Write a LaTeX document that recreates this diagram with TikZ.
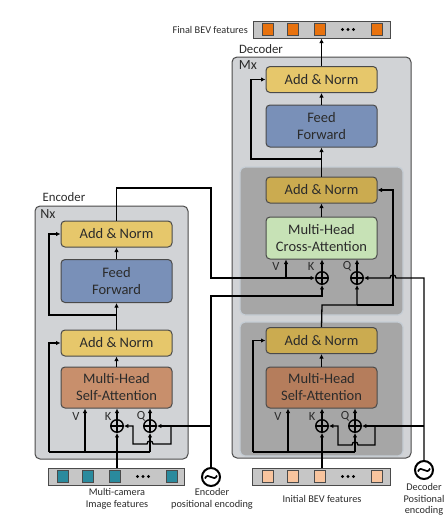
\documentclass[tikz,border=0pt]{standalone}
\usepackage{fontspec}
\setmainfont{Carlito}
\usetikzlibrary{arrows.meta,calc}
\definecolor{outergrey}{HTML}{D1D3D6}
\definecolor{innergrey}{HTML}{A6A6A6}
\definecolor{innerline}{HTML}{C5CDD5}
\definecolor{boxline}{HTML}{4A4A4A}
\definecolor{textdark}{HTML}{2B2B2B}
\definecolor{anlight}{HTML}{E6C76B}
\definecolor{andark}{HTML}{CBAB50}
\definecolor{ffblue}{HTML}{7990B8}
\definecolor{salight}{HTML}{C88F6C}
\definecolor{sadark}{HTML}{B57D5C}
\definecolor{cagreen}{HTML}{C7E2B6}
\definecolor{bargrey}{HTML}{C6C6C6}
\definecolor{teal}{HTML}{2A8A9D}
\definecolor{lorange}{HTML}{F8C49E}
\definecolor{dorange}{HTML}{E8720E}
\begin{document}
\begin{tikzpicture}[x=1pt,y=-1pt,
  outerbox/.style={draw=boxline, line width=1pt, fill=outergrey, rounded corners=5pt, inner sep=0pt},
  innerbox/.style={draw=innerline, line width=1.2pt, fill=innergrey, rounded corners=5pt, inner sep=0pt},
  blk/.style={draw=boxline, line width=1pt, rounded corners=4pt, minimum width=111pt, inner sep=0pt, align=center, text=textdark, font=\fontsize{14.5}{17}\selectfont},
  anl/.style={blk, fill=anlight, minimum height=26pt},
  and/.style={blk, fill=andark, minimum height=26pt},
  ffb/.style={blk, fill=ffblue, minimum height=43pt},
  sal/.style={blk, fill=salight, minimum height=41pt},
  sad/.style={blk, fill=sadark, minimum height=41pt},
  cab/.style={blk, fill=cagreen, minimum height=42pt},
  conn/.style={line width=1.3pt, black},
  arr/.style={conn, -{Latex[length=4.5pt,width=4.5pt]}},
  sumnode/.style={circle, draw, line width=1.4pt, minimum size=12.5pt, inner sep=0pt,
    path picture={\draw[line width=1.4pt] (path picture bounding box.north) -- (path picture bounding box.south) (path picture bounding box.west) -- (path picture bounding box.east);}},
  penode/.style={circle, draw, line width=2pt, minimum size=18pt, inner sep=0pt,
    path picture={\draw[line width=1.7pt] ($(path picture bounding box.center)+(-6pt,-1.5pt)$) .. controls ($(path picture bounding box.center)+(-3pt,6pt)$) and ($(path picture bounding box.center)+(3pt,-6pt)$) .. ($(path picture bounding box.center)+(6pt,1.5pt)$);}},
  bar/.style={draw=boxline, line width=1pt, fill=bargrey, minimum height=17pt, inner sep=0pt},
  sq/.style={draw=boxline, line width=0.8pt, minimum width=11.5pt, minimum height=12pt, inner sep=0pt},
  lbl/.style={text=textdark, font=\fontsize{10.3}{11.5}\selectfont, align=center, inner sep=0pt},
  title/.style={text=textdark, font=\fontsize{12.8}{14}\selectfont, inner sep=0pt},
  mult/.style={text=textdark, font=\fontsize{14}{15}\selectfont, inner sep=0pt},
  vkq/.style={text=textdark, font=\fontsize{12.5}{13}\selectfont, inner sep=0pt}
]
\useasboundingbox (0,0) rectangle (445,530);

% ================= ENCODER =================
\node[title] (enctitle) at (64,197) {Encoder};
\node[outerbox, minimum width=153pt, minimum height=253pt] (encbox) at (111.5,332.5) {};
\node[mult] (nx) at (48,214) {Nx};
\node[anl] (eAN2) at (116.5,234) {Add \& Norm};
\node[ffb] (eFF) at (116.5,281) {Feed\\Forward};
\node[anl] (eAN1) at (116.5,343) {Add \& Norm};
\node[sal] (eSA) at (116.5,387.5) {Multi-Head\\Self-Attention};
\node[sumnode] (eK) at (117,426) {};
\node[sumnode] (eQ) at (150,426) {};
\node[vkq] (eVl) at (76,416) {V};
\node[vkq] (eKl) at (108,416) {K};
\node[vkq] (eQl) at (141,416) {Q};

% image features bar
\node[bar, minimum width=136pt] (imgbar) at (116,476.5) {};
\node[sq, fill=teal] (is1) at (63,476.5) {};
\node[sq, fill=teal] (is2) at (88,476.5) {};
\node[sq, fill=teal] (is3) at (115,476.5) {};
\node[sq, fill=teal] (is4) at (172,476.5) {};
\foreach \x in {137.5,143,148.5} \fill (\x,476.5) circle (1.6pt);
\node[lbl] (imglbl) at (117,499) {Multi-camera\\Image features};

% encoder positional encoding
\node[penode] (ePE) at (211,477) {};
\node[lbl] (epelbl) at (212,499) {Encoder\\positional encoding};

% encoder coordinates
\coordinate (eL) at (49,452);
\coordinate (eVb) at (85,452);
\coordinate (eB2) at (116.5,315);
\coordinate (eR2) at (49,315);
\coordinate (eO1) at (211,188);
\coordinate (eO2) at (211,278);
\coordinate (eP1) at (211,296);
\coordinate (eLp1) at (171,426);
\coordinate (eLp2) at (171,444);
\coordinate (eLp3) at (133,444);
\coordinate (eLp4) at (133,426);

% encoder connectors
\draw[arr] (eK |- imgbar.north) -- (eK.south);
\draw[arr] (eK.north) -- (eK.north |- eSA.south);
\draw[arr] (eQ.north) -- (eQ.north |- eSA.south);
\draw[conn] (eL) -- (eQ |- eL);
\draw[arr] (eQ |- eL) -- (eQ.south);
\draw[arr] (eVb) -- (eVb |- eSA.south);
\draw[arr] (eL) |- (eAN1.west);
\draw[arr] (ePE.north |- eQ) -- (eQ.east);
\draw[arr] (eLp1) -- (eLp2) -- (153,444) .. controls (153,440) and (147,440) .. (147,444) -- (eLp3) -- (eLp4) -- (eK.east);
\draw[arr] (eSA.north) -- (eAN1.south);
\draw[arr] (eAN1.north) -- (eFF.south);
\draw[arr] (eB2) -- (eR2) |- (eAN2.west);
\draw[arr] (eFF.north) -- (eAN2.south);

% ================= DECODER =================
\node[title] (dectitle) at (261,49) {Decoder};
\node[outerbox, minimum width=179pt, minimum height=401pt] (decbox) at (321.5,257.5) {};
\node[mult] (mx) at (248,65) {Mx};
\node[anl] (dAN3) at (321.5,79.5) {Add \& Norm};
\node[ffb, minimum height=42pt] (dFF) at (321.5,126) {Feed\\Forward};

\node[innerbox, minimum width=163pt, minimum height=148pt] (dboxA) at (321.5,241) {};
\node[and] (dAN2) at (321.5,190) {Add \& Norm};
\node[cab] (dCA) at (321.5,238) {Multi-Head\\Cross-Attention};
\node[sumnode] (dK) at (322,278) {};
\node[sumnode] (dQ) at (357,278) {};
\node[vkq] (dVl) at (276,266) {V};
\node[vkq] (dKl) at (311,266) {K};
\node[vkq] (dQl) at (347,266) {Q};

\node[innerbox, minimum width=163pt, minimum height=134pt] (dboxB) at (321.5,389) {};
\node[and] (dAN1) at (321.5,340.5) {Add \& Norm};
\node[sad] (dSA) at (321.5,387.5) {Multi-Head\\Self-Attention};
\node[sumnode] (dK1) at (322,426) {};
\node[sumnode] (dQ1) at (355,426) {};
\node[vkq] (dV1l) at (278,416) {V};
\node[vkq] (dK1l) at (312,416) {K};
\node[vkq] (dQ1l) at (345,416) {Q};

% initial BEV bar
\node[bar, minimum width=138pt] (bevbar) at (321,476.5) {};
\node[sq, fill=lorange] (bs1) at (268,476.5) {};
\node[sq, fill=lorange] (bs2) at (293,476.5) {};
\node[sq, fill=lorange] (bs3) at (320,476.5) {};
\node[sq, fill=lorange] (bs4) at (377,476.5) {};
\foreach \x in {342.5,348,353.5} \fill (\x,476.5) circle (1.6pt);
\node[lbl] (bevlbl) at (322,499) {Initial BEV features};

% final BEV bar
\node[bar, minimum width=137pt] (finbar) at (321.5,29.5) {};
\node[sq, fill=dorange] (fs1) at (268,29.5) {};
\node[sq, fill=dorange] (fs2) at (293,29.5) {};
\node[sq, fill=dorange] (fs3) at (320,29.5) {};
\node[sq, fill=dorange] (fs4) at (377,29.5) {};
\foreach \x in {342.5,348,353.5} \fill (\x,29.5) circle (1.6pt);
\node[lbl, anchor=east] (finlbl) at (248,30) {Final BEV features};

% decoder positional encoding
\node[penode] (dPE) at (424,470) {};
\node[lbl] (dpelbl) at (424,499.5) {Decoder\\Positional\\encoding};

% decoder coordinates
\coordinate (dL) at (253,452);
\coordinate (dV1b) at (288,452);
\coordinate (dV) at (286,278);
\coordinate (dB) at (322,305);
\coordinate (dR) at (393,305);
\coordinate (dPEt) at (424,278);
\coordinate (dB3) at (322,159);
\coordinate (dR3) at (251,159);
\coordinate (dLp1) at (375,426);
\coordinate (dLp2) at (375,445);
\coordinate (dLp3) at (338,445);
\coordinate (dLp4) at (338,426);

% decoder lower block connectors
\draw[arr] (dK1 |- bevbar.north) -- (dK1.south);
\draw[arr] (dK1.north) -- (dK1.north |- dSA.south);
\draw[arr] (dQ1.north) -- (dQ1.north |- dSA.south);
\draw[conn] (dL) -- (dQ1 |- dL);
\draw[arr] (dQ1 |- dL) -- (dQ1.south);
\draw[arr] (dV1b) -- (dV1b |- dSA.south);
\draw[arr] (dL) |- (dAN1.west);
\draw[arr] (dPE.north |- dQ1) -- (dQ1.east);
\draw[arr] (dLp1) -- (dLp2) -- (358,445) .. controls (358,441) and (352,441) .. (352,445) -- (dLp3) -- (dLp4) -- (dK1.east);
\draw[arr] (dSA.north) -- (dAN1.south);

% decoder cross block connectors
\draw[arr] (dAN1.north) -- (dB) -| (dQ.south);
\draw[arr] (dQ.south |- dB) -- (dR) |- (dAN2.east);
\draw[arr] (dPE.north) -- (dPEt) -- (396,278) .. controls (396,274) and (390,274) .. (390,278) -- (dQ.east);
\draw[arr] (dK.north) -- (dK.north |- dCA.south);
\draw[arr] (dQ.north) -- (dQ.north |- dCA.south);
\draw[arr] (dCA.north) -- (dAN2.south);

% encoder output into cross attention
\draw[arr] (eAN2.north) |- (eO1) -- (eO2) -- (dK.west);
\draw[arr] (dV) -- (dV |- dCA.south);
\draw[arr] (ePE.north) -- (eP1) -| (dK.south);

% decoder top
\draw[arr] (dAN2.north) -- (dFF.south);
\draw[arr] (dB3) -- (dR3) |- (dAN3.west);
\draw[arr] (dFF.north) -- (dAN3.south);
\draw[arr] (dAN3.north) -- (finbar.south);
\end{tikzpicture}
\end{document}
